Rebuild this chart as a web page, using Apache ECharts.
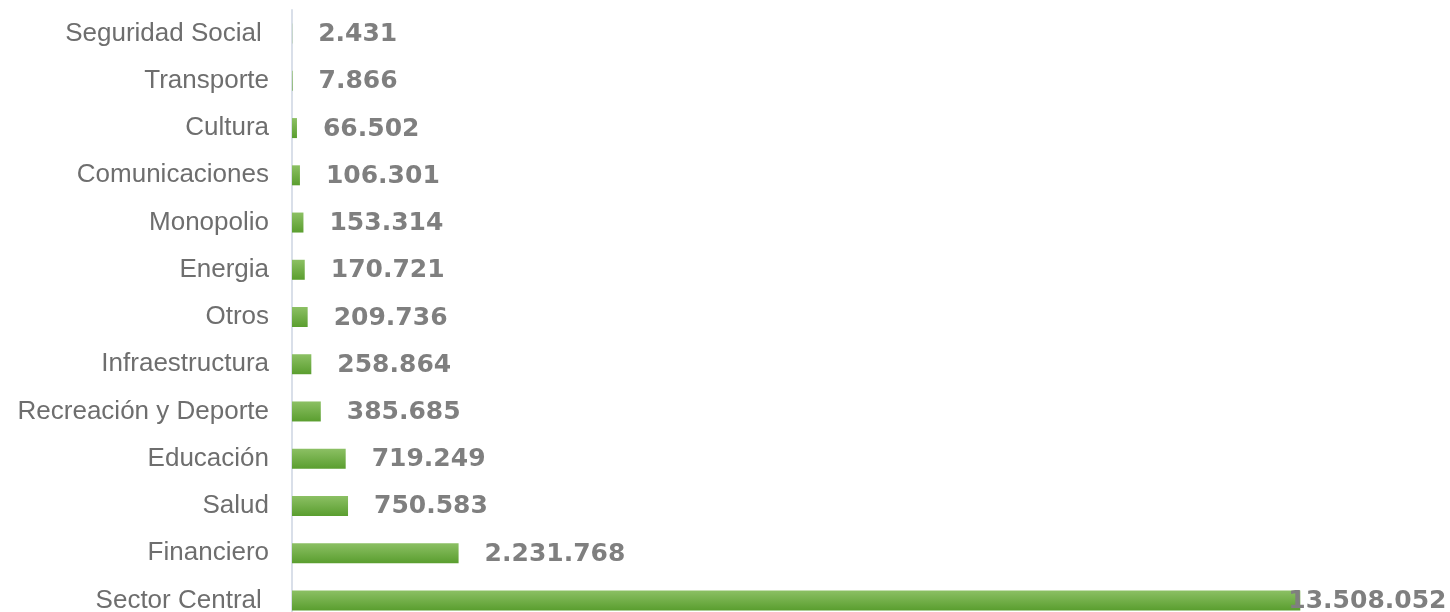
<!DOCTYPE html>
<html>
<head>
<meta charset="utf-8">
<script src="https://cdn.jsdelivr.net/npm/echarts@6/dist/echarts.min.js"></script>
<style>
html,body{margin:0;padding:0;background:#fff;}
#chart{width:1450px;height:612px;}
</style>
</head>
<body>
<div id="chart"></div>
<script>
const categories = ["Seguridad Social ", "Transporte", "Cultura", "Comunicaciones", "Monopolio", "Energia", "Otros", "Infraestructura", "Recreación y Deporte", "Educación", "Salud", "Financiero", "Sector Central "];
const values = [2431, 7866, 66502, 106301, 153314, 170721, 209736, 258864, 385685, 719249, 750583, 2231768, 13508052];

function fmt(v) {
  return String(v).replace(/\B(?=(\d{3})+(?!\d))/g, ".");
}

const chart = echarts.init(document.getElementById('chart'), null, {renderer: 'canvas'});

const barData = values.map((v, i) => {
  const item = { value: v };
  if (i === values.length - 1) {
    item.label = { distance: -12 };
  }
  return item;
});

chart.setOption({
  animation: false,
  grid: { left: 292, top: 10, width: 1157, height: 614, containLabel: false, outerBoundsMode: 'none' },
  xAxis: {
    type: 'value', min: 0, max: 15500000, show: false,
    splitLine: { show: false }
  },
  yAxis: {
    type: 'category', inverse: true, data: categories,
    axisLine: { show: true, lineStyle: { color: '#d9dfe9', width: 2 } },
    axisTick: { show: false },
    axisLabel: {
      margin: 23, fontSize: 26, color: '#6e6e6e',
      fontFamily: '"Liberation Sans", Arial, sans-serif'
    }
  },
  series: [{
    type: 'bar',
    data: barData,
    barWidth: 20,
    itemStyle: {
      color: new echarts.graphic.LinearGradient(0, 0, 0, 1, [
        { offset: 0, color: '#8cc064' },
        { offset: 1, color: '#5a9e2f' }
      ])
    },
    label: {
      show: true, position: 'right', distance: 26,
      offset: [0, 1],
      formatter: p => fmt(p.value),
      fontSize: 25, fontWeight: 'bold', color: '#7f7f7f',
      fontFamily: '"DejaVu Sans", sans-serif'
    }
  }]
});
</script>
</body>
</html>
